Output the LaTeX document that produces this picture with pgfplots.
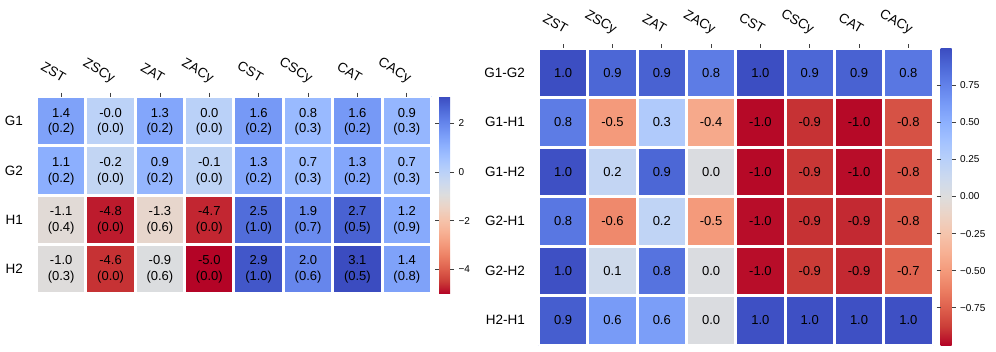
\documentclass[border=0pt]{standalone}
\usepackage{pgfplots}
\usepackage{pgfplotstable}
\pgfplotsset{compat=1.18}
\usepackage{fontspec}
\setmainfont{Liberation Sans}
\newcommand\lf{\fontsize{13.5}{16}\selectfont}
\newcommand\af{\fontsize{13}{15}\selectfont}
\newcommand\cf{\fontsize{10}{12}\selectfont}

\pgfplotsset{
  colormap={cwr}{rgb255=(180,4,38) rgb255=(203,62,56) rgb255=(222,96,77) rgb255=(236,127,99) rgb255=(244,154,123) rgb255=(247,177,148) rgb255=(245,196,172) rgb255=(236,211,197) rgb255=(221,221,221) rgb255=(204,217,238) rgb255=(184,208,249) rgb255=(163,194,255) rgb255=(141,176,254) rgb255=(119,154,247) rgb255=(98,130,234) rgb255=(77,104,215) rgb255=(59,76,192)},
  hm/.style={
    scale only axis, y dir=reverse, axis on top,
    axis line style={draw=none},
    enlargelimits=false,
    xmin=-0.5, xmax=7.5,
    xtick={0,...,7},
    xticklabels={ZST,ZSCy,ZAT,ZACy,CST,CSCy,CAT,CACy},
    xtick pos=upper, xticklabel pos=upper,
    tick align=outside, major tick length=4pt, minor tick length=0pt,
    x tick style={line width=0.8pt, color=black!75},
    y tick style={draw=none},
    xticklabel style={font=\lf, xshift=3pt, yshift=13pt, rotate=-30, anchor=east, inner sep=0pt, text height=9.7pt, text depth=2.8pt},
    yticklabel style={font=\lf, xshift=-6pt},
    minor xtick={-0.5,0.5,...,7.5},
    xminorgrids, yminorgrids,
    minor grid style={white, line width=3pt},
    colormap name=cwr,
    colorbar,
    colorbar shift/.style={},
  },
  cb/.style={colorbar style={
    at={(parent axis.north east)}, anchor=north west, xshift=7.5pt,
    width=11pt, scale only axis, height=#1,
    axis line style={draw=none},
    tick align=outside, major tick length=4pt,
    ytick style={line width=0.8pt, color=black!75},
    yticklabel style={font=\cf, xshift=1pt},
  }},
}

\pgfplotstableread{
x y v a b
0 0 1.4 1.4 (0.2)
1 0 -0.03 -0.0 (0.0)
2 0 1.3 1.3 (0.2)
3 0 0.02 0.0 (0.0)
4 0 1.6 1.6 (0.2)
5 0 0.8 0.8 (0.3)
6 0 1.6 1.6 (0.2)
7 0 0.9 0.9 (0.3)
0 1 1.1 1.1 (0.2)
1 1 -0.2 -0.2 (0.0)
2 1 0.9 0.9 (0.2)
3 1 -0.1 -0.1 (0.0)
4 1 1.3 1.3 (0.2)
5 1 0.7 0.7 (0.3)
6 1 1.3 1.3 (0.2)
7 1 0.7 0.7 (0.3)
0 2 -1.1 -1.1 (0.4)
1 2 -4.8 -4.8 (0.0)
2 2 -1.3 -1.3 (0.6)
3 2 -4.7 -4.7 (0.0)
4 2 2.5 2.5 (1.0)
5 2 1.9 1.9 (0.7)
6 2 2.7 2.7 (0.5)
7 2 1.2 1.2 (0.9)
0 3 -1.0 -1.0 (0.3)
1 3 -4.6 -4.6 (0.0)
2 3 -0.9 -0.9 (0.6)
3 3 -5.0 -5.0 (0.0)
4 3 2.9 2.9 (1.0)
5 3 2.0 2.0 (0.6)
6 3 3.1 3.1 (0.5)
7 3 1.4 1.4 (0.8)
}\leftdata

\pgfplotstableread{
x y v a
0 0 0.99 1.0
1 0 0.88 0.9
2 0 0.90 0.9
3 0 0.78 0.8
4 0 0.99 1.0
5 0 0.88 0.9
6 0 0.90 0.9
7 0 0.80 0.8
0 1 0.78 0.8
1 1 -0.50 -0.5
2 1 0.30 0.3
3 1 -0.42 -0.4
4 1 -0.99 -1.0
5 1 -0.90 -0.9
6 1 -0.99 -1.0
7 1 -0.80 -0.8
0 2 0.98 1.0
1 2 0.18 0.2
2 2 0.88 0.9
3 2 0.02 0.0
4 2 -0.99 -1.0
5 2 -0.89 -0.9
6 2 -0.98 -1.0
7 2 -0.80 -0.8
0 3 0.80 0.8
1 3 -0.58 -0.6
2 3 0.20 0.2
3 3 -0.50 -0.5
4 3 -0.98 -1.0
5 3 -0.90 -0.9
6 3 -0.92 -0.9
7 3 -0.78 -0.8
0 4 0.98 1.0
1 4 0.10 0.1
2 4 0.82 0.8
3 4 0.02 0.0
4 4 -0.98 -1.0
5 4 -0.88 -0.9
6 4 -0.92 -0.9
7 4 -0.74 -0.7
0 5 0.92 0.9
1 5 0.62 0.6
2 5 0.60 0.6
3 5 0.02 0.0
4 5 0.98 1.0
5 5 0.98 1.0
6 5 0.98 1.0
7 5 0.98 1.0
}\rightdata

\begin{document}
\begin{tikzpicture}
\useasboundingbox (0,0) rectangle (996pt,-351pt);
\begin{axis}[hm, cb=197pt,
  at={(36.5pt,-293.5pt)}, anchor=south west,
  width=395pt, height=197pt,
  ymin=-0.5, ymax=3.5,
  ytick={0,...,3}, yticklabels={G1,G2,H1,H2},
  minor ytick={-0.5,0.5,...,3.5},
  point meta min=-5.0, point meta max=3.1,
  colorbar style={ytick={-4,-2,0,2}, yticklabels={−4,−2,0,2}},
]
\addplot[matrix plot*, mesh/cols=8, point meta=explicit] table[x=x,y=y,meta=v]{\leftdata};
\addplot[only marks, mark=*, mark size=0pt, mark options={draw=none,fill=none},
  point meta=explicit symbolic, nodes near coords, nodes near coords align=center,
  every node near coord/.append style={font=\af, text=black, yshift=8.5pt}]
  table[x=x,y=y,meta=a]{\leftdata};
\addplot[only marks, mark=*, mark size=0pt, mark options={draw=none,fill=none},
  point meta=explicit symbolic, nodes near coords, nodes near coords align=center,
  every node near coord/.append style={font=\af, text=black, yshift=-8.5pt}]
  table[x=x,y=y,meta=b]{\leftdata};
\end{axis}

\begin{axis}[hm, cb=297pt,
  at={(538.5pt,-345pt)}, anchor=south west,
  width=394.5pt, height=297pt,
  ymin=-0.5, ymax=5.5,
  ytick={0,...,5}, yticklabels={G1-G2,G1-H1,G1-H2,G2-H1,G2-H2,H2-H1},
  minor ytick={-0.5,0.5,...,5.5},
  point meta min=-1, point meta max=1,
  colorbar style={ytick={-0.75,-0.5,-0.25,0,0.25,0.5,0.75}, yticklabels={−0.75,−0.50,−0.25,0.00,0.25,0.50,0.75}},
]
\addplot[matrix plot*, mesh/cols=8, point meta=explicit] table[x=x,y=y,meta=v]{\rightdata};
\addplot[only marks, mark=*, mark size=0pt, mark options={draw=none,fill=none},
  point meta=explicit symbolic, nodes near coords, nodes near coords align=center,
  every node near coord/.append style={font=\af, text=black}]
  table[x=x,y=y,meta=a]{\rightdata};
\end{axis}
\end{tikzpicture}
\end{document}
